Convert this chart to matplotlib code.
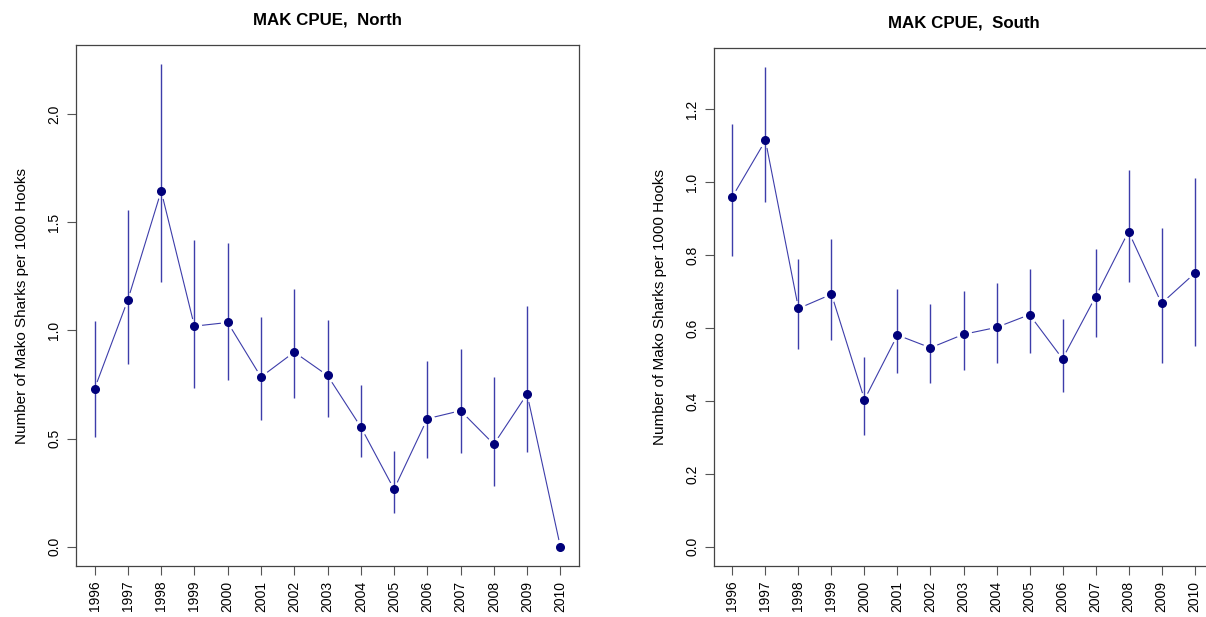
import matplotlib
matplotlib.use("Agg")
import matplotlib.pyplot as plt
import numpy as np

plt.rcParams['font.family'] = ['Liberation Sans', 'DejaVu Sans']

years = np.arange(1996, 2011)

# North
north_cpue  = [0.731, 1.142, 1.645, 1.020, 1.037, 0.785, 0.900, 0.792, 0.554, 0.266, 0.592, 0.629, 0.474, 0.706, 0.0]
north_upper = [1.046, 1.557, 2.231, 1.420, 1.406, 1.062, 1.192, 1.049, 0.746, 0.442, 0.860, 0.915, 0.783, 1.115, np.nan]
north_lower = [0.508, 0.843, 1.223, 0.734, 0.769, 0.585, 0.689, 0.600, 0.415, 0.154, 0.411, 0.434, 0.280, 0.438, np.nan]

# South
south_cpue  = [0.961, 1.115, 0.654, 0.693, 0.404, 0.581, 0.546, 0.583, 0.602, 0.637, 0.516, 0.686, 0.865, 0.668, 0.750]
south_upper = [1.160, 1.316, 0.790, 0.845, 0.521, 0.707, 0.666, 0.703, 0.723, 0.761, 0.626, 0.818, 1.033, 0.874, 1.011]
south_lower = [0.797, 0.946, 0.544, 0.568, 0.306, 0.478, 0.450, 0.484, 0.503, 0.531, 0.425, 0.576, 0.726, 0.505, 0.552]

W, H = 1206, 617
fig = plt.figure(figsize=(W/100, H/100), dpi=100)

def px_axes(l, t, r, b):
	return fig.add_axes([l/W, 1-b/H, (r-l)/W, (b-t)/H])

def panel(ax, cpue, upper, lower, title, yticks, ylab_pad):
	cpue  = np.array(cpue)
	upper = np.array(upper)
	lower = np.array(lower)
	line_col = '#3d3daa'
	ax.plot(years, cpue, color=line_col, lw=0.8, zorder=1)
	# white halo to mimic R type="b" gaps
	ax.plot(years, cpue, 'o', ms=10, color='white', mec='white', zorder=2)
	ax.vlines(years, lower, upper, color=line_col, lw=1.0, zorder=3)
	ax.plot(years, cpue, 'o', ms=5.5, color='#00007a', zorder=4)
	ymax = np.nanmax(upper)
	ext = 0.04*ymax
	ax.set_ylim(-ext, ymax+ext)
	ax.set_xlim(1996-0.56, 2010+0.56)
	ax.set_xticks(years)
	ax.set_xticklabels([str(y) for y in years], rotation=90, fontsize=10)
	ax.set_yticks(yticks)
	ax.set_yticklabels(["%.1f" % v for v in yticks], rotation=90, va='center', fontsize=10)
	ax.tick_params(direction='out', length=6.5, width=0.8, color='#555555', pad=4)
	for s in ax.spines.values():
		s.set_color('#444444')
		s.set_linewidth(0.9)
	ax.set_ylabel("Number of Mako Sharks per 1000 Hooks", fontsize=11, labelpad=ylab_pad)
	ax.set_title(title, fontsize=12.2, fontweight='bold', pad=15)

ax1 = px_axes(76, 45, 579, 566)
panel(ax1, north_cpue, north_upper, north_lower, "MAK CPUE,  North", [0.0, 0.5, 1.0, 1.5, 2.0], 13)

ax2 = px_axes(714, 48, 1213, 566)
panel(ax2, south_cpue, south_upper, south_lower, "MAK CPUE,  South", [0.0, 0.2, 0.4, 0.6, 0.8, 1.0, 1.2], 13)

fig.savefig("out.png", dpi=100)
